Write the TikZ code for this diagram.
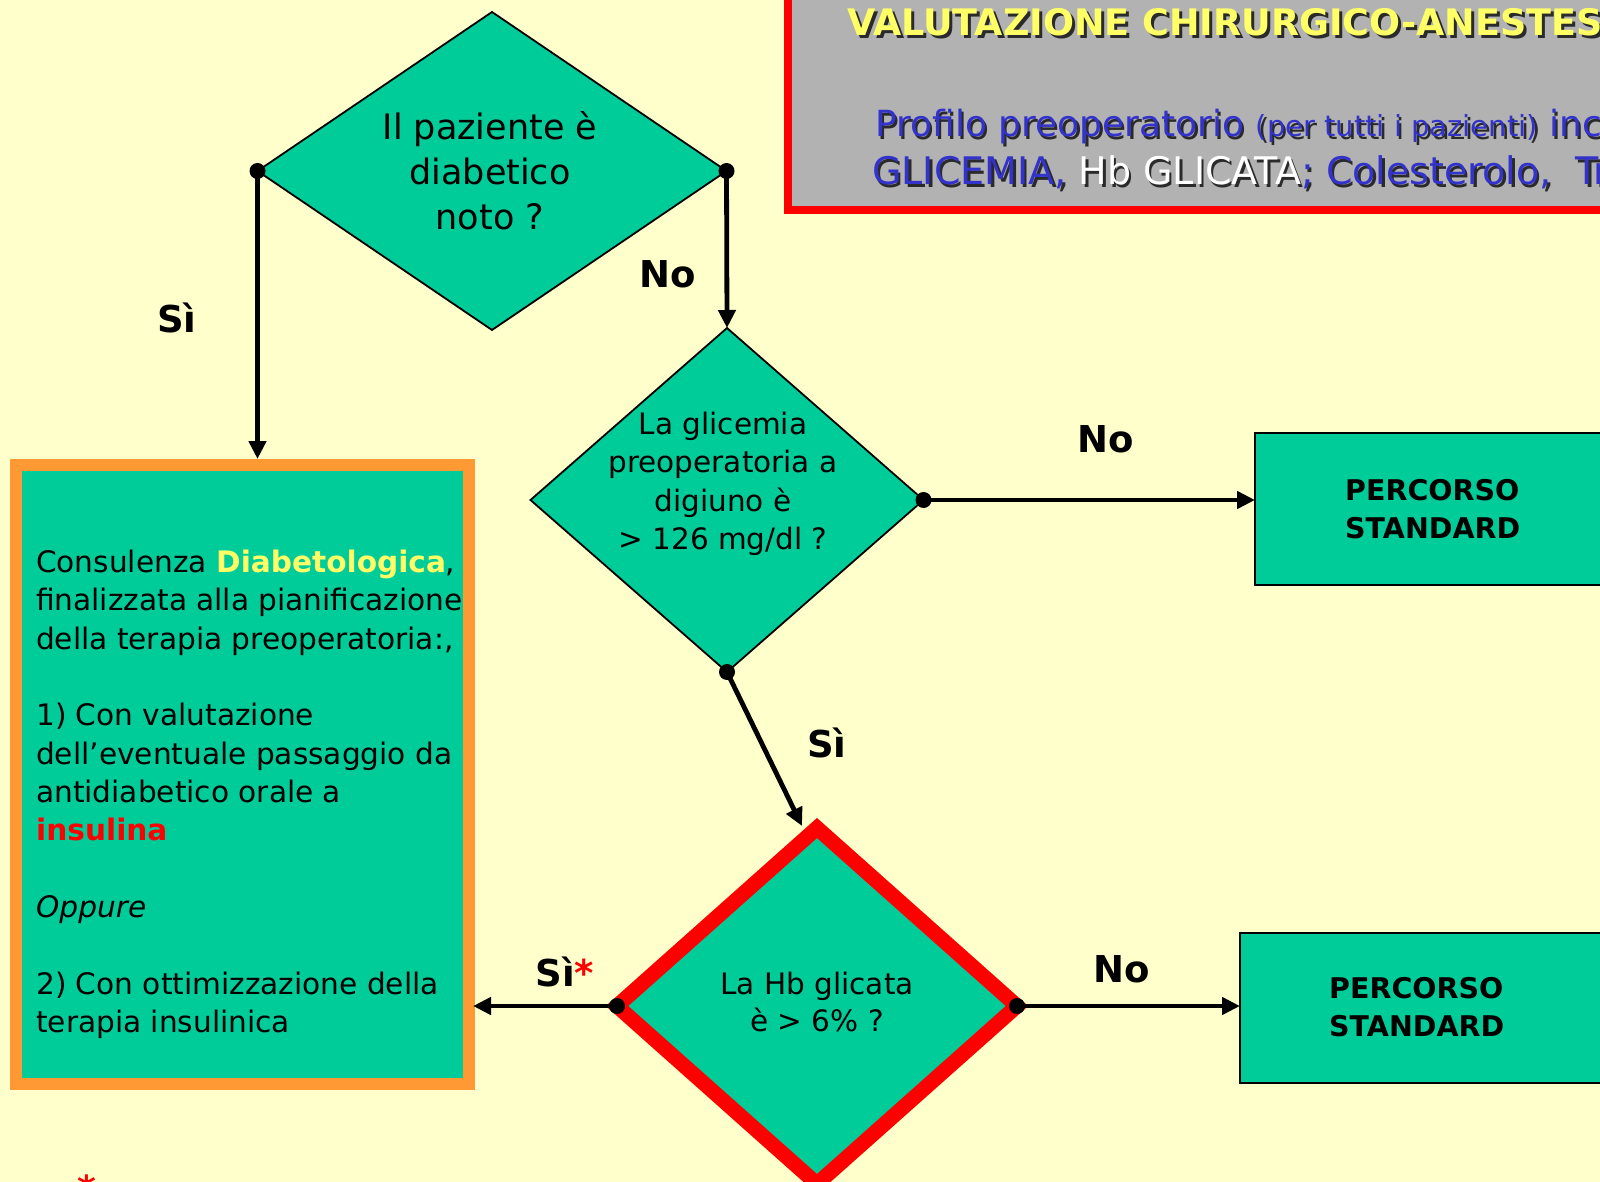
\documentclass[tikz,border=0pt]{standalone}
\usepackage{fontspec}
\setmainfont{DejaVu Sans}
\usetikzlibrary{shapes.geometric,arrows.meta,calc}

\definecolor{pagebg}{HTML}{FFFFCC}
\definecolor{flowgreen}{HTML}{00CC99}
\definecolor{boxorange}{HTML}{FF9933}
\definecolor{hdrgray}{HTML}{B2B2B2}
\definecolor{hdrblue}{HTML}{3333CC}
\definecolor{hdryellow}{HTML}{FFFF66}
\definecolor{shade}{HTML}{2A2A2A}

% header lines; arguments are the colours used for the parts
\newcommand{\hdrtitle}[1]{{\color{#1}VALUTAZIONE CHIRURGICO-ANESTESIOLOGICA}}
\newcommand{\hdrprofile}[1]{{\color{#1}Profilo preoperatorio {\fontsize{29}{32}\selectfont(per tutti i pazienti)} include}}
\newcommand{\hdrexams}[2]{{\color{#1}GLICEMIA,} {\color{#2}Hb GLICATA}{\color{#1}; Colesterolo,\ \ Trigliceridi}}

\begin{document}
\begin{tikzpicture}[x=1pt,y=-1pt,
  decision/.style={diamond, fill=flowgreen, draw=black, line width=1.8pt,
    inner sep=0pt, outer sep=0pt},
  stdbox/.style={rectangle, fill=flowgreen, draw=black, line width=2.2pt,
    inner sep=0pt, outer sep=0pt, anchor=north west},
  flow/.style={line width=4.8pt, -{Triangle[length=18pt,width=17pt]}},
  answer/.style={font=\fontsize{37}{40}\selectfont\bfseries, inner sep=0pt},
  qtext/.style={align=center, inner sep=0pt},
  stdtext/.style={align=left, inner sep=0pt, anchor=west,
    font=\fontsize{28.5}{38.5}\selectfont\bfseries},
]
\useasboundingbox (0,0) rectangle (1600,1182);
\clip (0,0) rectangle (1600,1182);
\fill[pagebg] (0,0) rectangle (1600,1182);

% header panel
\node[rectangle, fill=hdrgray, draw=red, line width=8pt, inner sep=0pt,
  outer sep=0pt, anchor=north west, minimum width=900pt, minimum height=240pt]
  (hdr) at (788,-30) {};
\node[anchor=base west, inner sep=0pt, font=\fontsize{36.5}{42}\selectfont\bfseries]
  at (850,38.5) {\hdrtitle{shade}};
\node[anchor=base west, inner sep=0pt, font=\fontsize{36.5}{42}\selectfont\bfseries]
  (title) at (847,36) {\hdrtitle{hdryellow}};
\node[anchor=base west, inner sep=0pt, font=\fontsize{36}{40}\selectfont]
  at (877.5,139.5) {\hdrprofile{shade}};
\node[anchor=base west, inner sep=0pt, font=\fontsize{36}{40}\selectfont]
  (profile) at (875,137) {\hdrprofile{hdrblue}};
\node[anchor=base west, inner sep=0pt, font=\fontsize{38}{42}\selectfont]
  at (874.5,187.5) {\hdrexams{shade}{shade}};
\node[anchor=base west, inner sep=0pt, font=\fontsize{38}{42}\selectfont]
  (exams) at (872,185) {\hdrexams{hdrblue}{white}};

% decisions
\node[decision, minimum width=469pt, minimum height=318pt] (d1) at (492,171) {};
\node[decision, minimum width=393pt, minimum height=344pt] (d2) at (727,500) {};
\node[decision, draw=red, line width=15pt, minimum width=400pt, minimum height=356pt]
  (d3) at (817,1006) {};

% outcome boxes
\node[rectangle, fill=flowgreen, draw=boxorange, line width=12pt, inner sep=0pt,
  outer sep=0pt, anchor=north west, minimum width=453pt, minimum height=619pt]
  (consul) at (16,465) {};
\node[stdbox, minimum width=420pt, minimum height=152pt] (box1) at (1255,433) {};
\node[stdbox, minimum width=420pt, minimum height=150pt] (box2) at (1240,933) {};

% connectors
\coordinate (d3in) at (802,826);
\draw[flow, shorten >=6pt] (d1.west) -- (d1.west |- consul.north);
\draw[flow] (d1.east) -- (d2.north);
\draw[flow] (d2.east) -- (d2.east -| box1.west);
\draw[flow] (d2.south) -- (d3in);
\draw[flow, shorten >=4pt] (d3.west) -- (d3.west -| consul.east);
\draw[flow] (d3.east) -- (d3.east -| box2.west);
\foreach \p in {d1.west, d1.east, d2.east, d2.south, d3.west, d3.east}
  \fill (\p) circle[radius=8pt];

% texts
\node[qtext, font=\fontsize{35}{45}\selectfont] (q1) at (490,171) {Il paziente è\\diabetico\\noto ?};
\node[qtext, font=\fontsize{29.5}{38.5}\selectfont] (q2) at (723,484) {La glicemia\\preoperatoria a\\digiuno è\\ > 126 mg/dl ?};
\node[qtext, font=\fontsize{29.5}{37}\selectfont] (q3) at (817,1002) {La Hb glicata\\è > 6\% ?};

\node[stdtext] (t1) at (1345,509) {PERCORSO\\STANDARD};
\node[stdtext] (t2) at (1329,1007) {PERCORSO\\STANDARD};

\node[anchor=north west, align=left, inner sep=0pt,
  font=\fontsize{29.6}{38.3}\selectfont] (consultext) at (36,550)
{Consulenza {\bfseries\color{hdryellow}Diabetologica},\\
finalizzata alla pianificazione\\
della terapia preoperatoria:,\\
~\\
1) Con valutazione\\
dell’eventuale passaggio da\\
antidiabetico orale a\\
{\bfseries\color{red}insulina}\\
~\\
\textit{Oppure}\\
~\\
2) Con ottimizzazione della\\
terapia insulinica};

% answer labels
\node[answer] (a1) at (177,318) {Sì};
\node[answer] (a2) at (668,274) {No};
\node[answer] (a3) at (1106,439) {No};
\node[answer] (a4) at (827,743) {Sì};
\node[answer] (a5) at (565,972) {Sì\textcolor{red}{*}};
\node[answer] (a6) at (1122,969) {No};

% footnote mark
\node[anchor=base, inner sep=0pt, text=red, font=\fontsize{36}{40}\selectfont\bfseries]
  (fn) at (87,1201) {*};
\end{tikzpicture}
\end{document}
